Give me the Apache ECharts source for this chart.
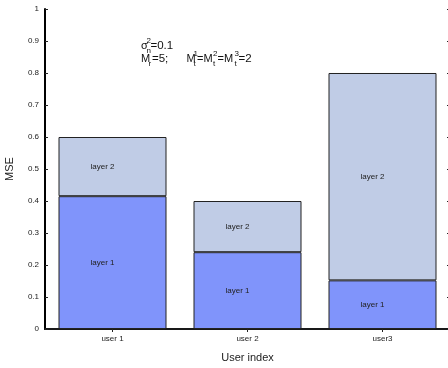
<!DOCTYPE html>
<html><head><meta charset="utf-8">
<script src="https://cdn.jsdelivr.net/npm/echarts@6/dist/echarts.min.js"></script>
<style>html,body{margin:0;padding:0;background:#fff}#c{width:448px;height:368px}</style>
</head><body><div id="c"></div>
<script>
var categories = ['user 1', 'user 2', 'user3'];
var layer1 = [0.415, 0.24, 0.152];
var layer2 = [0.185, 0.16, 0.648];
var seriesNames = ['layer 1', 'layer 2'];

var chart = echarts.init(document.getElementById('c'), null, {renderer: 'canvas'});
var font = 'Liberation Sans, Arial, sans-serif';
function barSeries(name, data, color) {
  return {
    name: name, type: 'bar', stack: 'total', data: data,
    barWidth: '80%', xAxisIndex: 0, yAxisIndex: 0,
    itemStyle: {color: color, borderColor: '#222', borderWidth: 1},
    label: {show: true, position: 'inside', formatter: name, color: '#222',
      fontSize: 8, fontFamily: font, offset: [-10, 0]}
  };
}
function t(str, x, y, size) {
  return {type: 'text', x: x, y: y, silent: true,
    style: {text: str, fontSize: size, fontFamily: font, fill: '#111',
      align: 'left', verticalAlign: 'middle'}};
}
chart.setOption({
  animation: false,
  grid: {left: 45, top: 9, width: 405, height: 320, containLabel: false, outerBoundsMode: 'none'},
  xAxis: [{
    type: 'category', data: categories, position: 'bottom',
    axisLine: {lineStyle: {color: '#000', width: 2}},
    axisTick: {show: false},
    axisLabel: {color: '#222', fontSize: 8, fontFamily: font, margin: 6},
    name: 'User index', nameLocation: 'middle', nameGap: 23,
    nameTextStyle: {color: '#222', fontSize: 11, fontFamily: font}
  }, {
    type: 'category', data: categories, position: 'top',
    axisLine: {lineStyle: {color: '#222', width: 1.5}},
    axisTick: {show: true, inside: true, alignWithLabel: true, length: 3, lineStyle: {color: '#222'}},
    axisLabel: {show: false}
  }],
  yAxis: [{
    type: 'value', min: 0, max: 1, interval: 0.1,
    axisLine: {show: true, lineStyle: {color: '#000', width: 2}},
    axisTick: {show: true, inside: true, length: 3, lineStyle: {color: '#222'}},
    splitLine: {show: false},
    axisLabel: {color: '#222', fontSize: 8, fontFamily: font, margin: 6,
      formatter: function (v) { return String(+v.toFixed(1)); }},
    name: 'MSE', nameLocation: 'middle', nameGap: 30,
    nameTextStyle: {color: '#222', fontSize: 11, fontFamily: font}
  }, {
    type: 'value', min: 0, max: 1, interval: 0.1, position: 'right',
    axisLine: {show: true, lineStyle: {color: '#222', width: 1}},
    axisTick: {show: true, inside: true, length: 3, lineStyle: {color: '#222'}},
    splitLine: {show: false}, axisLabel: {show: false}
  }],
  series: [
    barSeries(seriesNames[0], layer1, '#8094fb'),
    barSeries(seriesNames[1], layer2, '#c0cce6')
  ],
  graphic: [
    t('σ', 141, 45.6, 11), t('2', 146.5, 41.2, 8), t('n', 146.5, 51, 8), t('=0.1', 150.5, 45.6, 11.5),
    t('M', 141, 58.8, 11), t('r', 148.5, 64, 8), t('=5;', 152, 58.8, 11.5),
    t('M', 186.5, 58.8, 11), t('1', 193.5, 54, 8), t('t', 193.5, 64, 8),
    t('=M', 197, 58.8, 11), t('2', 213, 54, 8), t('t', 213, 64, 8),
    t('=M', 217.5, 58.8, 11), t('3', 234.5, 54, 8), t('t', 234.5, 64, 8),
    t('=2', 238.5, 58.8, 11.5)
  ]
});
</script></body></html>
